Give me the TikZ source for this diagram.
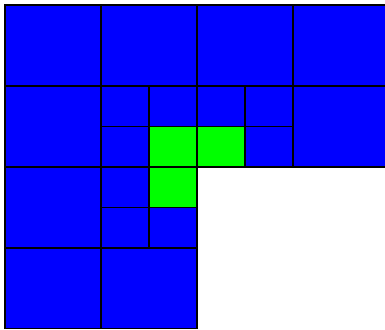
\documentclass[tikz,border=0pt]{standalone}
\usepackage{xcolor}
\usepackage{tikz}
\definecolor{cellblue}{HTML}{0000FF}
\definecolor{cellgreen}{HTML}{00FF00}
\tikzset{
  bigb/.style={draw=black,fill=cellblue,line width=0.6pt},
  smb/.style={draw=black,fill=cellblue,line width=0.6pt},
  smg/.style={draw=black,fill=cellgreen,line width=0.6pt}
}

\begin{document}
\begin{tikzpicture}[x=0.02cm,y=-0.02cm]
\useasboundingbox (0,0) rectangle (385,329);
\clip (0,0) rectangle (385,328.4);
% big cells
\foreach \cx/\cy in {0/0,1/0,2/0,3/0,0/1,3/1,0/2,0/3,1/3}{
  \draw[bigb] (5+96*\cx,5+81*\cy) rectangle ++(96,81);}
% half cells
\foreach \hx/\hy in {2/2,3/2,2/3,4/2,5/2,5/3,2/4,2/5,3/5}{
  \draw[smb] (5+48*\hx,5+40.5*\hy) rectangle ++(48,40.5);}
\foreach \hx/\hy in {3/3,4/3,3/4}{
  \draw[smg] (5+48*\hx,5+40.5*\hy) rectangle ++(48,40.5);}
\end{tikzpicture}
\end{document}
